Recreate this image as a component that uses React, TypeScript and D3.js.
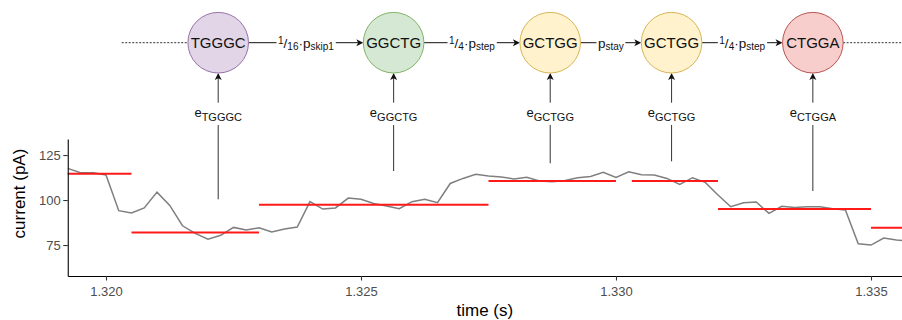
import React, { useEffect, useRef } from 'react'
import * as d3 from 'd3'

// raw current trace (4 kHz samples)
const sampleTime = [
    1.31925, 1.3195, 1.31975, 1.32, 1.32025, 1.3205, 1.32075, 1.321, 1.32125, 1.3215,
    1.32175, 1.322, 1.32225, 1.3225, 1.32275, 1.323, 1.32325, 1.3235, 1.32375, 1.324,
    1.32425, 1.3245, 1.32475, 1.325, 1.32525, 1.3255, 1.32575, 1.326, 1.32625, 1.3265,
    1.32675, 1.327, 1.32725, 1.3275, 1.32775, 1.328, 1.32825, 1.3285, 1.32875, 1.329,
    1.32925, 1.3295, 1.32975, 1.33, 1.33025, 1.3305, 1.33075, 1.331, 1.33125, 1.3315,
    1.33175, 1.332, 1.33225, 1.3325, 1.33275, 1.333, 1.33325, 1.3335, 1.33375, 1.334,
    1.33425, 1.3345, 1.33475, 1.335, 1.33525, 1.3355, 1.33575,
]
const current = [
    117.6, 115.2, 115.2, 113.9, 94.1, 92.8, 95.6, 104.4, 97.0, 85.7,
    81.5, 78.3, 80.4, 84.8, 83.3, 84.6, 82.2, 83.9, 85.0, 99.1,
    95.0, 95.6, 101.1, 100.4, 98.1, 96.7, 95.2, 99.1, 100.4, 98.5,
    109.2, 112.0, 114.3, 113.3, 112.8, 111.7, 112.6, 110.6, 110.2, 110.9,
    112.4, 113.1, 115.4, 112.6, 115.7, 114.1, 113.9, 112.0, 108.7, 112.4,
    109.8, 102.8, 96.3, 98.5, 98.9, 92.6, 96.5, 95.9, 96.3, 96.3,
    95.2, 94.4, 75.7, 75.0, 78.9, 77.8, 77.2,
]

// segmented event means
const segStart = [1.319, 1.3205, 1.323, 1.3275, 1.33031, 1.332, 1.335]
const segEnd = [1.3205, 1.323, 1.3275, 1.33, 1.332, 1.335, 1.336]
const segLevel = [114.6, 81.9, 97.4, 110.6, 110.6, 95.0, 84.6]

const xTicks = [1.32, 1.325, 1.33, 1.335]
const yTicks = [75, 100, 125]

// HMM states drawn above the trace
const kmers = ['TGGGC', 'GGCTG', 'GCTGG', 'GCTGG', 'CTGGA']
const kmerTime = [1.3222, 1.32564, 1.32871, 1.33109, 1.33386]
const emissionTip = [100.4, 116.1, 120.4, 121.5, 105.0]

type Part = [string, 'main' | 'sup' | 'sub']
const transitionLabels: Part[][] = [
    [['1', 'sup'], ['/', 'main'], ['16', 'sub'], ['·p', 'main'], ['skip1', 'sub']],
    [['1', 'sup'], ['/', 'main'], ['4', 'sub'], ['·p', 'main'], ['step', 'sub']],
    [['p', 'main'], ['stay', 'sub']],
    [['1', 'sup'], ['/', 'main'], ['4', 'sub'], ['·p', 'main'], ['step', 'sub']],
]

const nodeFill = ['#e1d5e7', '#d5e8d4', '#fff2cc', '#fff2cc', '#f8cecc']
const nodeStroke = ['#9673a6', '#82b366', '#d6b656', '#d6b656', '#b85450']

const FONT = 'Liberation Sans, Arial, Helvetica, sans-serif'

const App: React.FC = () => {
    const svgRef = useRef<SVGSVGElement | null>(null)

    useEffect(() => {
        if (!svgRef.current) return
        const width = 902
        const height = 320
        const plot = { left: 67.75, right: 902, top: 139, bottom: 276 }
        const nodeY = 42.7
        const r = 30.3

        const svg = d3.select(svgRef.current)
        svg.selectAll('*').remove()

        const x = d3
            .scaleLinear()
            .domain([1.31925, 1.335608])
            .range([plot.left, plot.right])
        const y = d3
            .scaleLinear()
            .domain([57.8, 133.9])
            .range([plot.bottom, plot.top])

        svg.append('defs')
            .append('clipPath')
            .attr('id', 'plot-clip')
            .append('rect')
            .attr('x', plot.left)
            .attr('y', plot.top)
            .attr('width', plot.right - plot.left)
            .attr('height', plot.bottom - plot.top)

        // trace + segments
        const pts = sampleTime.map((t, i) => [t, current[i]] as [number, number])
        const line = d3
            .line<[number, number]>()
            .x((d) => x(d[0]))
            .y((d) => y(d[1]))

        const g = svg.append('g').attr('clip-path', 'url(#plot-clip)')
        g.append('path')
            .datum(pts)
            .attr('fill', 'none')
            .attr('stroke', '#7f7f7f')
            .attr('stroke-width', 1.5)
            .attr('d', line)

        g.selectAll('line.seg')
            .data(segLevel)
            .join('line')
            .attr('class', 'seg')
            .attr('x1', (_, i) => x(segStart[i]))
            .attr('x2', (_, i) => x(segEnd[i]))
            .attr('y1', (d) => y(d))
            .attr('y2', (d) => y(d))
            .attr('stroke', '#ff1a1a')
            .attr('stroke-width', 2)

        // axes
        const gx = svg
            .append('g')
            .attr('transform', `translate(0,${plot.bottom})`)
            .call(
                d3
                    .axisBottom(x)
                    .tickValues(xTicks)
                    .tickFormat(d3.format('.3f'))
                    .tickSize(4.5)
                    .tickPadding(6)
                    .tickSizeOuter(0)
            )
        const gy = svg
            .append('g')
            .attr('transform', `translate(${plot.left},0)`)
            .call(
                d3
                    .axisLeft(y)
                    .tickValues(yTicks)
                    .tickSize(4.5)
                    .tickPadding(2.5)
                    .tickSizeOuter(0)
            )
        ;[gx, gy].forEach((ax) => {
            ax.attr('font-family', FONT).attr('font-size', 13)
            ax.select('.domain').attr('stroke', '#000').attr('stroke-width', 1.1)
            ax.selectAll('.tick line').attr('stroke', '#333').attr('stroke-width', 1.1)
            ax.selectAll('.tick text').attr('fill', '#4d4d4d')
        })

        svg.append('text')
            .attr('x', (plot.left + plot.right) / 2)
            .attr('y', 316)
            .attr('text-anchor', 'middle')
            .attr('font-family', FONT)
            .attr('font-size', 17)
            .text('time (s)')
        svg.append('text')
            .attr('transform', `translate(25,193.5) rotate(-90)`)
            .attr('text-anchor', 'middle')
            .attr('font-family', FONT)
            .attr('font-size', 17)
            .text('current (pA)')

        // helper: rich label with white backing
        const richLabel = (
            parent: d3.Selection<SVGGElement, unknown, null, undefined>,
            parts: Part[],
            cx: number,
            baseY: number,
            sizes: { main: number; small: number; sup: number; sub: number },
            padX: number,
            padY: number
        ) => {
            const txt = parent
                .append('text')
                .attr('x', cx)
                .attr('y', baseY)
                .attr('text-anchor', 'middle')
                .attr('font-family', FONT)
                .attr('fill', '#111')
            let prev = 0
            parts.forEach(([s, role]) => {
                const off = role === 'sup' ? sizes.sup : role === 'sub' ? sizes.sub : 0
                txt.append('tspan')
                    .attr('dy', off - prev)
                    .attr('font-size', role === 'main' ? sizes.main : sizes.small)
                    .text(s)
                prev = off
            })
            const bb = (txt.node() as SVGTextElement).getBBox()
            parent
                .insert('rect', () => txt.node())
                .attr('x', bb.x - padX)
                .attr('y', bb.y - padY)
                .attr('width', bb.width + padX * 2)
                .attr('height', bb.height + padY * 2)
                .attr('fill', '#fff')
        }

        const diag = svg.append('g')
        const nx = kmerTime.map((t) => x(t))

        // dotted continuation
        diag.append('line')
            .attr('x1', 121.7)
            .attr('x2', nx[0] - r)
            .attr('y1', nodeY)
            .attr('y2', nodeY)
        diag.append('line')
            .attr('x1', nx[nx.length - 1] + r)
            .attr('x2', width)
            .attr('y1', nodeY)
            .attr('y2', nodeY)
        diag.selectAll('line')
            .attr('stroke', '#333')
            .attr('stroke-width', 1)
            .attr('stroke-dasharray', '2,1.5')

        const arrowRight = (tx: number, ty: number) =>
            `M${tx},${ty}L${tx - 7},${ty - 3.5}L${tx - 5.2},${ty}L${tx - 7},${ty + 3.5}Z`
        const arrowUp = (tx: number, ty: number) =>
            `M${tx},${ty}L${tx - 3.5},${ty + 7}L${tx},${ty + 5.2}L${tx + 3.5},${ty + 7}Z`

        // transitions
        transitionLabels.forEach((parts, i) => {
            const x1 = nx[i] + r
            const x2 = nx[i + 1] - r
            const eg = diag.append('g')
            eg.append('line')
                .attr('x1', x1)
                .attr('x2', x2 - 5)
                .attr('y1', nodeY)
                .attr('y2', nodeY)
                .attr('stroke', '#111')
                .attr('stroke-width', 1)
            eg.append('path').attr('d', arrowRight(x2, nodeY)).attr('fill', '#111')
            richLabel(
                eg,
                parts,
                (x1 + x2) / 2,
                48.3,
                { main: 13.5, small: 10, sup: -4.4, sub: 1.7 },
                1.5,
                0
            )
        })

        // emissions
        kmers.forEach((k, i) => {
            const eg = diag.append('g')
            const top = nodeY + r
            eg.append('line')
                .attr('x1', nx[i])
                .attr('x2', nx[i])
                .attr('y1', top + 5)
                .attr('y2', y(emissionTip[i]))
                .attr('stroke', '#333')
                .attr('stroke-width', 1)
            eg.append('path').attr('d', arrowUp(nx[i], top)).attr('fill', '#111')
            richLabel(
                eg,
                [['e', 'main'], [k, 'sub']],
                nx[i],
                116.7,
                { main: 13, small: 11, sup: 0, sub: 4.3 },
                0,
                2
            )
        })

        // state nodes
        const ng = diag
            .selectAll('g.node')
            .data(kmers)
            .join('g')
            .attr('class', 'node')
            .attr('transform', (_, i) => `translate(${nx[i]},${nodeY})`)
        ng.append('circle')
            .attr('r', r)
            .attr('fill', (_, i) => nodeFill[i])
            .attr('stroke', (_, i) => nodeStroke[i])
            .attr('stroke-width', 1)
        ng.append('text')
            .attr('text-anchor', 'middle')
            .attr('y', 5.4)
            .attr('font-family', FONT)
            .attr('font-size', 15)
            .attr('fill', '#111')
            .text((d) => d)
    }, [])

    return (
        <svg
            ref={svgRef}
            width={902}
            height={320}
            style={{ position: 'absolute', left: 0, top: 0, background: '#fff' }}
        />
    )
}

export default App
